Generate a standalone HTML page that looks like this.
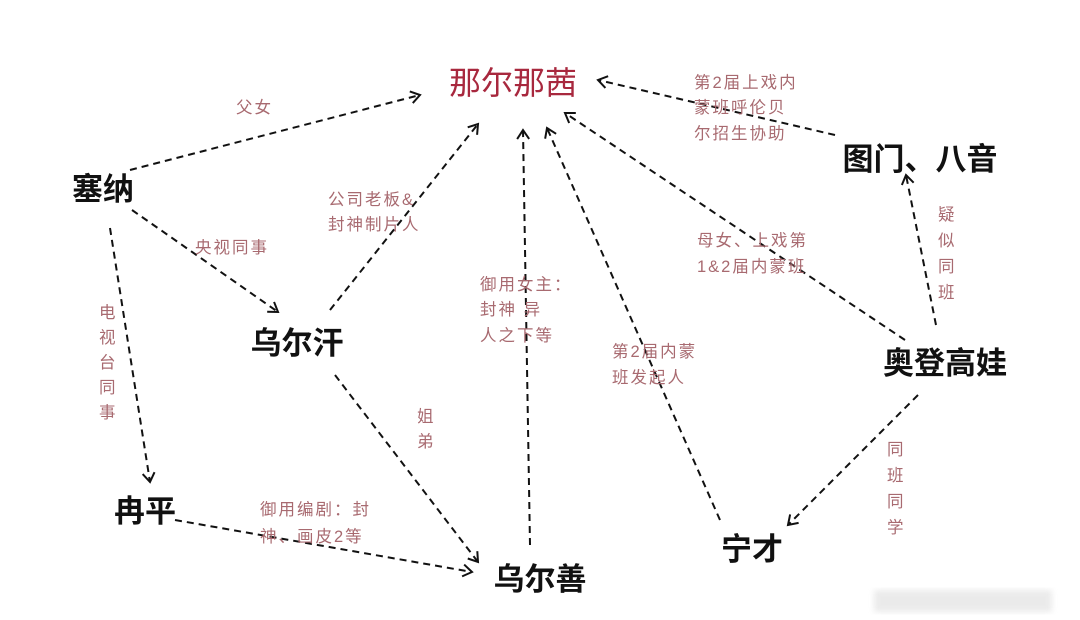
<!DOCTYPE html>
<html><head><meta charset="utf-8"><style>
html,body{margin:0;padding:0;background:#fff;}
svg{display:block;}
.n{font-family:"Liberation Sans","Noto Sans CJK SC",sans-serif;font-weight:bold;font-size:31px;fill:#111;}
.l{font-family:"Liberation Sans","Noto Sans CJK SC",sans-serif;font-size:16.5px;fill:#a86a70;letter-spacing:2px;}
</style></head><body>
<svg width="1080" height="620" viewBox="0 0 1080 620" xmlns="http://www.w3.org/2000/svg">
<defs>
<marker id="a" markerWidth="14" markerHeight="14" refX="11" refY="7" orient="auto" markerUnits="userSpaceOnUse">
<path d="M2,1 L11,7 L2,13" fill="none" stroke="#111" stroke-width="2"/>
</marker>
<filter id="b"><feGaussianBlur stdDeviation="3"/></filter>
</defs>
<g stroke="#111" stroke-width="2" stroke-dasharray="7,5" fill="none" marker-end="url(#a)">
<line x1="130" y1="170" x2="420" y2="95"/>
<line x1="132" y1="210" x2="278" y2="312"/>
<line x1="110" y1="228" x2="150" y2="482"/>
<line x1="330" y1="310" x2="478" y2="124"/>
<line x1="335" y1="375" x2="478" y2="562"/>
<line x1="175" y1="520" x2="472" y2="572"/>
<line x1="530" y1="545" x2="523" y2="130"/>
<line x1="720" y1="520" x2="547" y2="128"/>
<line x1="905" y1="340" x2="565" y2="113"/>
<line x1="835" y1="135" x2="598" y2="80"/>
<line x1="936" y1="325" x2="906" y2="175"/>
<line x1="918" y1="395" x2="788" y2="525"/>
</g>
<text x="513" y="94" text-anchor="middle" font-family="Liberation Sans, Noto Sans CJK SC, sans-serif" font-size="32" fill="#a8283e">那尔那茜</text>
<text class="n" x="103" y="200" text-anchor="middle">塞纳</text>
<text class="n" x="297" y="354" text-anchor="middle">乌尔汗</text>
<text class="n" x="145" y="522" text-anchor="middle">冉平</text>
<text class="n" x="540" y="590" text-anchor="middle">乌尔善</text>
<text class="n" x="752" y="560" text-anchor="middle">宁才</text>
<text class="n" x="945" y="374" text-anchor="middle">奥登高娃</text>
<text class="n" x="920" y="170" text-anchor="middle">图门、八音</text>
<text class="l" x="236" y="113">父女</text>
<text class="l" x="328" y="205">公司老板&amp;</text>
<text class="l" x="328" y="230">封神制片人</text>
<text class="l" x="195" y="253">央视同事</text>
<g class="l"><text x="99" y="318">电</text><text x="99" y="343">视</text><text x="99" y="368">台</text><text x="99" y="393">同</text><text x="99" y="418">事</text></g>
<g class="l"><text x="417" y="422">姐</text><text x="417" y="447">弟</text></g>
<text class="l" x="260" y="515">御用编剧：封</text>
<text class="l" x="260" y="542">神、画皮2等</text>
<text class="l" x="480" y="290">御用女主：</text>
<text class="l" x="480" y="315">封神 异</text>
<text class="l" x="480" y="341">人之下等</text>
<text class="l" x="612" y="357">第2届内蒙</text>
<text class="l" x="612" y="383">班发起人</text>
<text class="l" x="697" y="246">母女、上戏第</text>
<text class="l" x="697" y="272">1&amp;2届内蒙班</text>
<text class="l" x="694" y="88">第2届上戏内</text>
<text class="l" x="694" y="113">蒙班呼伦贝</text>
<text class="l" x="694" y="139">尔招生协助</text>
<g class="l"><text x="938" y="220">疑</text><text x="938" y="246">似</text><text x="938" y="272">同</text><text x="938" y="298">班</text></g>
<g class="l"><text x="887" y="455">同</text><text x="887" y="481">班</text><text x="887" y="507">同</text><text x="887" y="533">学</text></g>
<rect x="874" y="590" width="178" height="22" fill="#e6e6e6" opacity="0.8" filter="url(#b)"/>
</svg>
</body></html>
